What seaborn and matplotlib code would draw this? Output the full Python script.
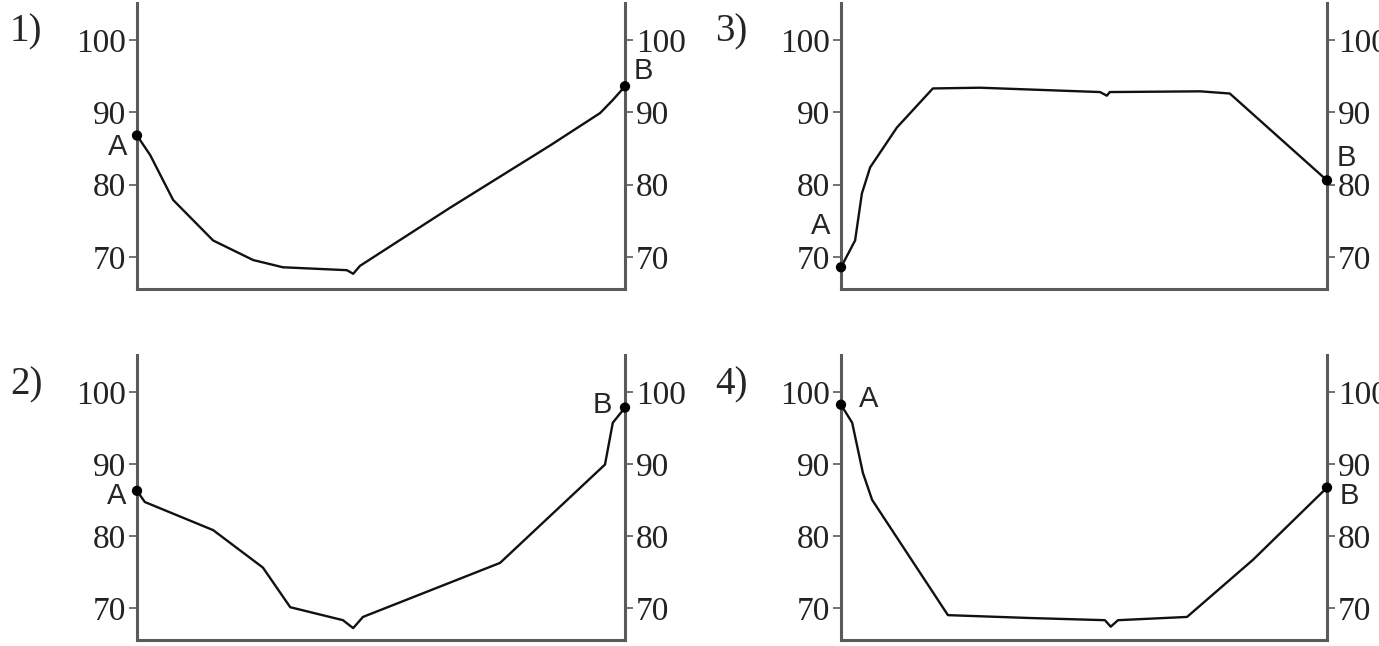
import numpy as np
import pandas as pd
import matplotlib
matplotlib.use("Agg")
import matplotlib.pyplot as plt
import seaborn as sns

# curve samples: position along the section (0-100) and value
x1 = [0, 2.7, 7.4, 15.6, 23.8, 29.9, 43.0, 44.3, 45.7, 64.1, 84.6, 94.9, 97.5, 100]
v1 = [86.8, 84.1, 77.9, 72.3, 69.6, 68.6, 68.2, 67.7, 68.8, 76.8, 85.4, 89.9, 91.7, 93.6]

x2 = [0, 1.6, 15.6, 25.8, 31.4, 42.2, 44.3, 46.3, 74.4, 95.9, 97.5, 100]
v2 = [86.25, 84.7, 80.8, 75.6, 70.1, 68.3, 67.2, 68.75, 76.25, 89.9, 95.7, 97.8]

x3 = [0, 2.9, 4.3, 6.0, 11.5, 18.9, 28.6, 53.3, 54.7, 55.3, 73.9, 80.0, 100]
v3 = [68.6, 72.3, 78.8, 82.4, 87.9, 93.3, 93.4, 92.8, 92.3, 92.8, 92.9, 92.6, 80.6]

x4 = [0, 2.3, 4.5, 6.4, 22.0, 38.9, 54.3, 55.5, 57.0, 71.2, 84.8, 100]
v4 = [98.2, 95.7, 88.75, 85.0, 69.0, 68.6, 68.3, 67.4, 68.3, 68.75, 76.7, 86.7]

panel_names = ["1)", "2)", "3)", "4)"]
yticks = [70, 80, 90, 100]

sns.set_style("white")
plt.rcParams['font.family'] = ['Liberation Serif', 'DejaVu Serif']

fig = plt.figure(figsize=(13.79, 6.46), dpi=100)
W, H = 1379, 646

# axes boxes in pixels: left, top, right, bottom
boxes = [(137, 3, 625, 289), (137, 355, 625, 640), (841, 3, 1327, 289), (841, 355, 1327, 640)]
ylims = [(65.6, 105.1), (65.55, 105.1), (65.6, 105.1), (65.55, 105.1)]
curves = [(x1, v1), (x2, v2), (x3, v3), (x4, v4)]
# label offsets (points) for A and B from the curve ends
a_off = [(-14, -8), (-15, -4), (-15, 30), (20, 4)]
b_off = [(13, 11), (-16, 2), (14, 16), (16, -6)]
name_pos = [(10, 32), (10, 385), (715, 32), (715, 385)]

spine_col = "#5a5a5a"
for i in range(4):
    l, t, r, b = boxes[i]
    ax = fig.add_axes([l / W, 1 - b / H, (r - l) / W, (b - t) / H])
    xs, vs = curves[i]
    df = pd.DataFrame({"x": xs, "v": vs})
    sns.lineplot(data=df, x="x", y="v", ax=ax, color="#111111", linewidth=1.7,
                 sort=False, estimator=None)
    ends = df.iloc[[0, -1]]
    sns.scatterplot(data=ends, x="x", y="v", ax=ax, color="black", s=55,
                    edgecolor="none", clip_on=False, zorder=5)
    ax.set_xlim(0, 100)
    ax.set_ylim(*ylims[i])
    ax.set_xlabel("")
    ax.set_ylabel("")
    ax.set_xticks([])
    ax.set_yticks(yticks)
    ax.tick_params(axis="y", left=True, right=True, labelleft=True, labelright=True,
                   direction="out", length=6, width=1.2, color=spine_col,
                   labelsize=24, labelcolor="#222222", pad=2)
    ax.spines["top"].set_visible(False)
    for s in ["left", "right", "bottom"]:
        ax.spines[s].set_color(spine_col)
        ax.spines[s].set_linewidth(2.2)
    ax.annotate("A", (xs[0], vs[0]), xytext=a_off[i], textcoords="offset points",
                ha="center", va="center", fontsize=21, family="Liberation Sans",
                annotation_clip=False)
    ax.annotate("B", (xs[-1], vs[-1]), xytext=b_off[i], textcoords="offset points",
                ha="center", va="center", fontsize=21, family="Liberation Sans",
                annotation_clip=False)
    px, py = name_pos[i]
    fig.text(px / W, 1 - py / H, panel_names[i], fontsize=28, ha="left", va="center")

fig.savefig("out.png", dpi=100)
